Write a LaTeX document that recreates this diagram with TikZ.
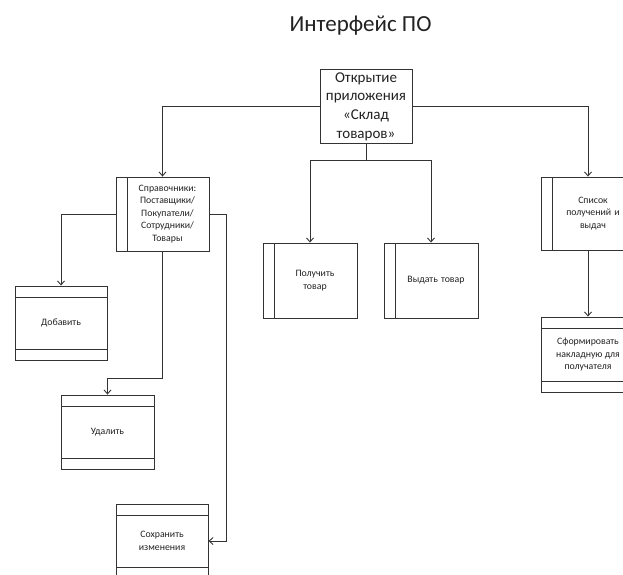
\documentclass[tikz,border=0pt]{standalone}
\usepackage{fontspec}
\setmainfont{Carlito}
\usetikzlibrary{arrows.meta}
\definecolor{ln}{HTML}{333333}
\definecolor{tx}{HTML}{222222}
\tikzset{
  box/.style={draw=ln, line width=0.9pt, rectangle, inner sep=1pt, align=center,
    text=tx, font=\fontsize{9.8}{12.5}\selectfont},
  vbar/.style={box, path picture={\draw[ln, line width=0.9pt]
    ([xshift=11.5pt]path picture bounding box.north west) --
    ([xshift=11.5pt]path picture bounding box.south west);}},
  hbars/.style={box, path picture={\draw[ln, line width=0.9pt]
    ([yshift=11pt]path picture bounding box.south west) --
    ([yshift=11pt]path picture bounding box.south east)
    ([yshift=-11pt]path picture bounding box.north west) --
    ([yshift=-11pt]path picture bounding box.north east);}},
  conn/.style={draw=ln, line width=0.9pt},
  arr/.style={conn, -{Straight Barb[length=4pt,width=7pt]}}
}
\begin{document}
\begin{tikzpicture}[x=1pt,y=-1pt]
\useasboundingbox[fill=white] (0,0) rectangle (623,574);
\node[anchor=base, text=tx, font=\fontsize{23}{27}\selectfont] (title) at (360.5,31.5) {Интерфейс ПО};
\node[box, minimum width=92pt, minimum height=74pt, font=\fontsize{15}{18.7}\selectfont] (top) at (366,106.5)
  {Открытие\\приложения\\«Склад\\товаров»};
\node[vbar, minimum width=93pt, minimum height=74pt, text width=80pt] (sprav) at (162.5,214)
  {\hspace*{10pt}Справочники:\\\hspace*{10pt}Поставщики/\\\hspace*{10pt}Покупатели/\\\hspace*{10pt}Сотрудники/\\\hspace*{10pt}Товары};
\node[hbars, minimum width=92pt, minimum height=74pt] (dob) at (61,323) {Добавить};
\node[hbars, minimum width=93pt, minimum height=74pt] (udal) at (107.5,432) {Удалить};
\node[hbars, minimum width=92pt, minimum height=74pt] (sohr) at (162,541) {Сохранить\\изменения};
\node[vbar, minimum width=94pt, minimum height=75pt, text width=80pt] (pol) at (310,280.5) {\hspace*{10pt}Получить\\\hspace*{10pt}товар};
\node[vbar, minimum width=94pt, minimum height=75pt, text width=80pt] (vyd) at (431,280.5) {\hspace*{10pt}Выдать товар};
\node[vbar, minimum width=94pt, minimum height=73pt, text width=80pt] (spis) at (588,213.5) {\hspace*{10pt}Список\\\hspace*{10pt}получений и\\\hspace*{10pt}выдач};
\node[hbars, minimum width=94pt, minimum height=75pt] (sform) at (588,354.5) {Сформировать\\накладную для\\получателя};
\coordinate (j) at (366,160);
\coordinate (k) at (162.5,378);
\draw[arr] (top.west) -| (sprav.north);
\draw[arr] (top.east) -| (spis.north);
\draw[conn] (top.south) -- (j);
\draw[arr] (j) -| (pol.north);
\draw[arr] (j) -| (vyd.north);
\draw[arr] (sprav.west) -| (dob.north);
\draw[arr] (sprav.south) -- (k) -| (udal.north);
\draw[arr] (sprav.east) -- ++(17,0) |- (sohr.east);
\draw[arr] (spis.south) -- (sform.north);
\end{tikzpicture}
\end{document}
